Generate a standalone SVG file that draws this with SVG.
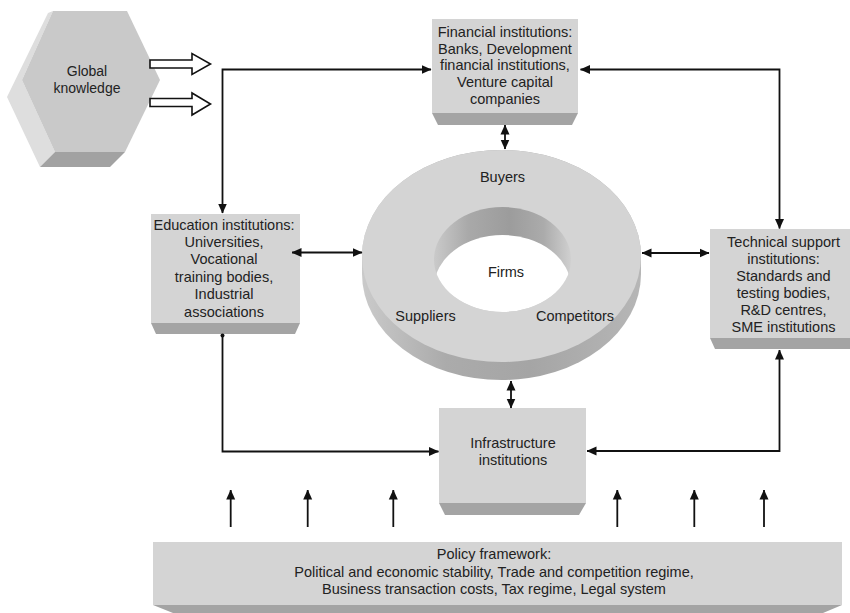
<svg xmlns="http://www.w3.org/2000/svg" width="850" height="613" viewBox="0 0 850 613">
<style>
.t{font-family:"Liberation Sans",Arial,sans-serif;font-size:14.5px;fill:#222;text-anchor:middle}
.front{fill:#d4d4d4}
.strip{fill:#a4a4a4}
.ln{fill:none;stroke:#111;stroke-width:1.8}
.hollow{fill:#fff;stroke:#111;stroke-width:1.6;stroke-linejoin:miter}
</style>
<defs>
<marker id="ah" markerUnits="userSpaceOnUse" markerWidth="10" markerHeight="10" viewBox="0 0 10 10" refX="9.5" refY="5" orient="auto-start-reverse">
<path d="M0,0.5 L10,5 L0,9.5 Z" fill="#111"/>
</marker>
<marker id="dot" markerUnits="userSpaceOnUse" markerWidth="6" markerHeight="6" viewBox="0 0 6 6" refX="3" refY="3">
<circle cx="3" cy="3" r="2" fill="#111"/>
</marker>
<linearGradient id="band" gradientUnits="userSpaceOnUse" x1="362" y1="0" x2="641" y2="0">
<stop offset="0" stop-color="#cacaca"/>
<stop offset="0.3" stop-color="#ababab"/>
<stop offset="0.6" stop-color="#a5a5a5"/>
<stop offset="1" stop-color="#b6b6b6"/>
</linearGradient>
<linearGradient id="wall" gradientUnits="userSpaceOnUse" x1="434" y1="0" x2="571" y2="0">
<stop offset="0" stop-color="#cacaca"/>
<stop offset="0.25" stop-color="#a9a9a9"/>
<stop offset="0.55" stop-color="#9c9c9c"/>
<stop offset="0.8" stop-color="#ababab"/>
<stop offset="1" stop-color="#d0d0d0"/>
</linearGradient>
<clipPath id="hole"><ellipse cx="502.5" cy="259.5" rx="68.5" ry="52.5"/></clipPath>
</defs>

<g id="global-knowledge">
<polygon points="53,11 22,80 55,152 40,167 7,97 48,13" fill="#dedede"/>
<polygon points="55,152 125,152 110,167 40,167" fill="#a2a2a2"/>
<polygon points="53,11 127,11 160,80 125,152 55,152 22,80" fill="#c9c9c9"/>
<text class="t" x="87" y="76" style="font-size:14px">Global</text>
<text class="t" x="87" y="93" style="font-size:14px">knowledge</text>
<path class="hollow" d="M150,60 H192 V53.5 L210.5,64 L192,74.5 V68 H150 Z"/>
<path class="hollow" d="M150,98.5 H192 V93 L210.5,104 L192,115 V106.5 H150 Z"/>
</g>

<g id="financial">
<rect class="front" x="432" y="19" width="146" height="94"/>
<polygon class="strip" points="432,113 578,113 572,125 438,125"/>
<text class="t" x="505" y="37">Financial institutions:</text>
<text class="t" x="505" y="53.7">Banks, Development</text>
<text class="t" x="505" y="70.4">financial institutions,</text>
<text class="t" x="505" y="87.1">Venture capital</text>
<text class="t" x="505" y="103.8">companies</text>
</g>

<g id="education">
<rect class="front" x="151" y="214" width="149" height="109"/>
<polygon class="strip" points="151,323 300,323 295,334 156,334"/>
<text class="t" x="224" y="229.5">Education institutions:</text>
<text class="t" x="224" y="246.9">Universities,</text>
<text class="t" x="224" y="264.3">Vocational</text>
<text class="t" x="224" y="281.7">training bodies,</text>
<text class="t" x="224" y="299.1">Industrial</text>
<text class="t" x="224" y="316.5">associations</text>
</g>

<g id="technical">
<rect class="front" x="710" y="229" width="140" height="109"/>
<polygon class="strip" points="710,338 850,338 850,349 715,349"/>
<text class="t" x="783.5" y="246.7">Technical support</text>
<text class="t" x="783.5" y="263.7">institutions:</text>
<text class="t" x="783.5" y="280.7">Standards and</text>
<text class="t" x="783.5" y="297.7">testing bodies,</text>
<text class="t" x="783.5" y="314.7">R&amp;D centres,</text>
<text class="t" x="783.5" y="331.7">SME institutions</text>
</g>

<g id="firms-ring">
<path d="M362,256 A139.5,106 0 0 1 641,256 V274 A139.5,106 0 0 1 362,274 Z" fill="url(#band)"/>
<ellipse cx="501.5" cy="256" rx="139.5" ry="106" fill="#d4d4d4"/>
<ellipse cx="502.5" cy="259.5" rx="68.5" ry="52.5" fill="url(#wall)"/>
<ellipse cx="502.5" cy="287.5" rx="68.5" ry="52.5" fill="#fff" clip-path="url(#hole)"/>
<text class="t" x="502.5" y="181.7">Buyers</text>
<text class="t" x="506" y="276.7">Firms</text>
<text class="t" x="425.5" y="321">Suppliers</text>
<text class="t" x="575" y="321">Competitors</text>
</g>

<g id="infrastructure">
<rect class="front" x="439" y="408" width="147" height="95"/>
<polygon class="strip" points="439,503 586,503 579,515 445,515"/>
<text class="t" x="513" y="448">Infrastructure</text>
<text class="t" x="513" y="465">institutions</text>
</g>

<g id="policy">
<rect class="front" x="153" y="542" width="689" height="63"/>
<polygon class="strip" points="153,605 842,605 823,613 173,613"/>
<text class="t" x="494" y="559">Policy framework:</text>
<text class="t" x="494" y="576.7">Political and economic stability, Trade and competition regime,</text>
<text class="t" x="494" y="594.3">Business transaction costs, Tax regime, Legal system</text>
</g>

<g id="connectors">
<path class="ln" d="M431,69.5 H222.5 V213" marker-start="url(#ah)" marker-end="url(#ah)"/>
<path class="ln" d="M580.5,69.5 H779.5 V228.5" marker-start="url(#ah)" marker-end="url(#ah)"/>
<path class="ln" d="M505,125 V149" marker-start="url(#ah)" marker-end="url(#ah)"/>
<path class="ln" d="M292,252.5 H362" marker-start="url(#ah)" marker-end="url(#ah)"/>
<path class="ln" d="M642,253 H709" marker-start="url(#ah)" marker-end="url(#ah)"/>
<path class="ln" d="M511,381 V408" marker-start="url(#ah)" marker-end="url(#ah)"/>
<path class="ln" d="M222.5,335.5 V451.5 H438.5" marker-start="url(#dot)" marker-end="url(#ah)"/>
<path class="ln" d="M779.5,350 V451 H587" marker-start="url(#ah)" marker-end="url(#ah)"/>
<path class="ln" d="M230.7,527 V490" marker-end="url(#ah)"/>
<path class="ln" d="M307.7,527 V490" marker-end="url(#ah)"/>
<path class="ln" d="M393.3,527 V490" marker-end="url(#ah)"/>
<path class="ln" d="M617.3,527 V490" marker-end="url(#ah)"/>
<path class="ln" d="M694.3,527 V490" marker-end="url(#ah)"/>
<path class="ln" d="M764,527 V490" marker-end="url(#ah)"/>
</g>
</svg>
